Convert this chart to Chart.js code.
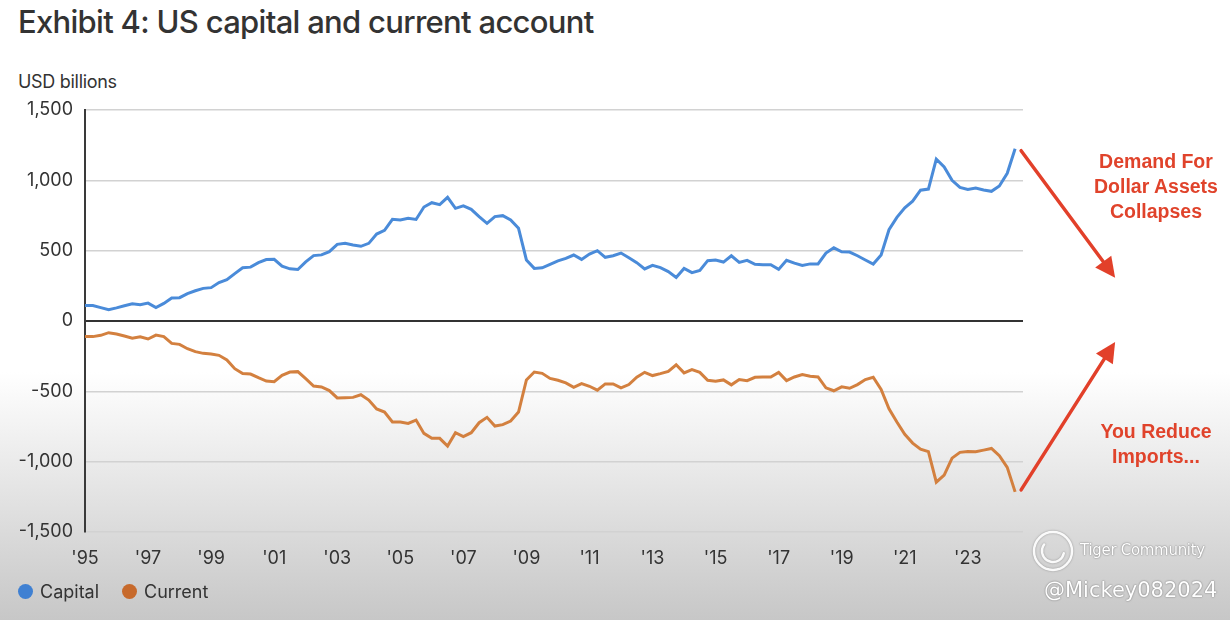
<!DOCTYPE html>
<html>
<head>
<meta charset="utf-8">
<script src="https://cdn.jsdelivr.net/npm/chart.js@4"></script>
<style>
  html, body { margin: 0; padding: 0; }
  body {
    width: 1230px; height: 620px; overflow: hidden; position: relative;
    font-family: Inter, "Noto Sans", sans-serif; color: #333;
    background: linear-gradient(to bottom, #fff 0%, #fff 60%, #eaeaea 75%, #d6d6d6 89%, #c7c7c7 100%);
  }
  #title { position: absolute; left: 18px; top: 3px; font-size: 31px; font-weight: 500; letter-spacing: -0.7px; color: #333; }
  #unit { position: absolute; left: 18px; top: 71px; font-size: 18px; letter-spacing: -0.3px; }
  #chartWrap { position: absolute; left: 0; top: 0; width: 1230px; height: 620px; }
  .legend { position: absolute; top: 581px; font-size: 18px; display: flex; align-items: center; }
  .dot { width: 15px; height: 15px; border-radius: 50%; margin-right: 7px; }
  .note { position: absolute; width: 180px; text-align: center; font-family: "Liberation Sans", Arial, sans-serif;
          font-weight: bold; font-size: 19.5px; line-height: 25px; color: #e0432b; }
  .wm { position: absolute; color: #fff; font-family: "DejaVu Sans", sans-serif;
        text-shadow: 0 0 2px #888, 0 0 1px #777; }
</style>
</head>
<body>
<div id="title">Exhibit 4: US capital and current account</div>
<div id="unit">USD billions</div>
<div id="chartWrap"><canvas id="chart" width="1230" height="620"></canvas></div>
<div class="legend" style="left:18px"><span class="dot" style="background:#3f80d2"></span>Capital</div>
<div class="legend" style="left:122px"><span class="dot" style="background:#c76a2c"></span>Current</div>
<div class="note" style="left:1066px; top:149px">Demand For<br>Dollar Assets<br>Collapses</div>
<div class="note" style="left:1066px; top:419px">You Reduce<br>Imports...</div>
<div class="wm" style="left:1080px; top:541px; font-size:15px; letter-spacing:-0.3px">Tiger Community</div>
<div class="wm" style="left:1044px; top:578px; font-size:21px">@Mickey082024</div>
<script>
// quarterly, 1995 Q1 onwards
const startYear = 1995;
const endYear = 2024;
const tickYears = [1995, 1997, 1999, 2001, 2003, 2005, 2007, 2009, 2011, 2013, 2015, 2017, 2019, 2021, 2023];

const capital = [
  110, 110, 95, 80, 93, 108, 122, 115, 127, 95, 125, 163, 166, 195, 215, 232,
  237, 273, 293, 337, 378, 383, 415, 437, 439, 390, 371, 366, 420, 465, 470, 493,
  545, 552, 540, 531, 552, 618, 645, 723, 718, 730, 722, 810, 841, 827, 879, 801,
  818, 794, 742, 694, 742, 749, 718, 659, 434, 374, 378, 403, 427, 445, 469, 438,
  476, 500, 453, 464, 483, 450, 415, 370, 396, 379, 351, 310, 374, 344, 360, 429,
  434, 419, 464, 417, 431, 403, 400, 400, 367, 432, 411, 395, 406, 406, 483, 520,
  492, 490, 464, 434, 405, 470, 649, 737, 804, 852, 930, 938, 1150, 1095, 1000, 950,
  935, 945, 931, 922, 960, 1050, 1225
];

const current = [
  -111, -111, -102, -83, -92, -107, -123, -112, -128, -100, -111, -159, -166, -197, -218, -230,
  -235, -244, -277, -339, -374, -377, -403, -427, -431, -386, -363, -360, -410, -462, -469, -495,
  -547, -545, -543, -524, -562, -625, -647, -718, -718, -728, -704, -799, -834, -834, -889, -794,
  -822, -794, -723, -685, -747, -737, -711, -647, -419, -363, -372, -408, -421, -440, -471, -445,
  -464, -492, -447, -447, -475, -452, -400, -365, -388, -374, -358, -311, -369, -346, -365, -421,
  -428, -419, -454, -416, -424, -400, -398, -398, -365, -424, -398, -381, -393, -398, -475, -496,
  -468, -478, -452, -416, -400, -487, -624, -718, -805, -868, -911, -929, -1146, -1095, -975, -934,
  -927, -929, -918, -906, -958, -1040, -1215
];

const quarters = [];
for (let y = startYear; y <= endYear; y++) {
  for (let q = 1; q <= 4; q++) quarters.push(y + " Q" + q);
}

function $(id) { return document.getElementById(id); }

function tickText(i) {
  const lab = quarters[i];
  if (!lab || !lab.endsWith("Q1")) return null;
  const yr = parseInt(lab);
  if (!tickYears.includes(yr)) return null;
  return "'" + String(yr).slice(2);
}

// red hand-drawn style arrows leaving the last points
const arrows = {
  id: "arrows",
  afterDatasetsDraw(chart) {
    const ctx = chart.ctx;
    const pairs = [[0, 94, 127], [1, 94, -148]];
    ctx.save();
    ctx.strokeStyle = "#e2402a";
    ctx.fillStyle = "#e2402a";
    ctx.lineWidth = 3.5;
    ctx.lineCap = "round";
    for (const [ds, dx, dy] of pairs) {
      const pts = chart.getDatasetMeta(ds).data;
      const p = pts[pts.length - 1];
      if (!p) continue;
      const x0 = p.x + 6, y0 = p.y + (dy > 0 ? 2 : -2);
      const x1 = x0 + dx, y1 = y0 + dy;
      const a = Math.atan2(y1 - y0, x1 - x0);
      ctx.beginPath();
      ctx.moveTo(x0, y0);
      ctx.lineTo(x1 - 8 * Math.cos(a), y1 - 8 * Math.sin(a));
      ctx.stroke();
      ctx.beginPath();
      ctx.moveTo(x1, y1);
      ctx.lineTo(x1 - 20 * Math.cos(a) + 10 * Math.sin(a), y1 - 20 * Math.sin(a) - 10 * Math.cos(a));
      ctx.lineTo(x1 - 20 * Math.cos(a) - 10 * Math.sin(a), y1 - 20 * Math.sin(a) + 10 * Math.cos(a));
      ctx.closePath();
      ctx.fill();
    }
    // watermark logo ring
    ctx.strokeStyle = "rgba(255,255,255,0.95)";
    ctx.lineWidth = 2.5;
    ctx.shadowColor = "rgba(90,90,90,0.6)";
    ctx.shadowBlur = 2;
    ctx.beginPath();
    ctx.arc(1053, 551, 19, 0, Math.PI * 2);
    ctx.stroke();
    ctx.beginPath();
    ctx.arc(1053, 551, 11, 0.2, Math.PI * 1.2);
    ctx.stroke();
    ctx.restore();
  }
};

new Chart($("chart"), {
  type: "line",
  data: {
    labels: quarters,
    datasets: [
      {
        label: "Capital",
        data: capital,
        borderColor: "#4a8bd9",
        borderWidth: 3,
        pointRadius: 0,
        tension: 0,
      },
      {
        label: "Current",
        data: current,
        borderColor: "#d3803f",
        borderWidth: 3,
        pointRadius: 0,
        tension: 0,
      }
    ]
  },
  options: {
    responsive: false,
    animation: false,
    layout: { padding: { left: 0, right: 207, top: 110, bottom: 48 } },
    plugins: { legend: { display: false }, tooltip: { enabled: false } },
    scales: {
      x: {
        offset: false,
        grid: { display: false, drawTicks: false },
        border: { display: false },
        afterFit: s => { s.height = 40; },
        ticks: {
          autoSkip: false, maxRotation: 0, padding: 16,
          color: "#333", font: { family: "Inter", size: 18 },
          callback: (v, i) => tickText(i)
        }
      },
      y: {
        min: -1500, max: 1500,
        afterFit: s => { s.width = 85; },
        border: { display: true, color: "#3a3a3a", width: 2 },
        grid: {
          drawTicks: false,
          color: c => c.tick.value === 0 ? "#333" : "#d2d2d2",
          lineWidth: c => c.tick.value === 0 ? 2 : 1.5
        },
        ticks: {
          stepSize: 500, padding: 12,
          color: "#333", font: { family: "Inter", size: 18 },
          callback: v => v.toLocaleString("en-US")
        }
      }
    }
  },
  plugins: [arrows]
});
</script>
</body>
</html>
